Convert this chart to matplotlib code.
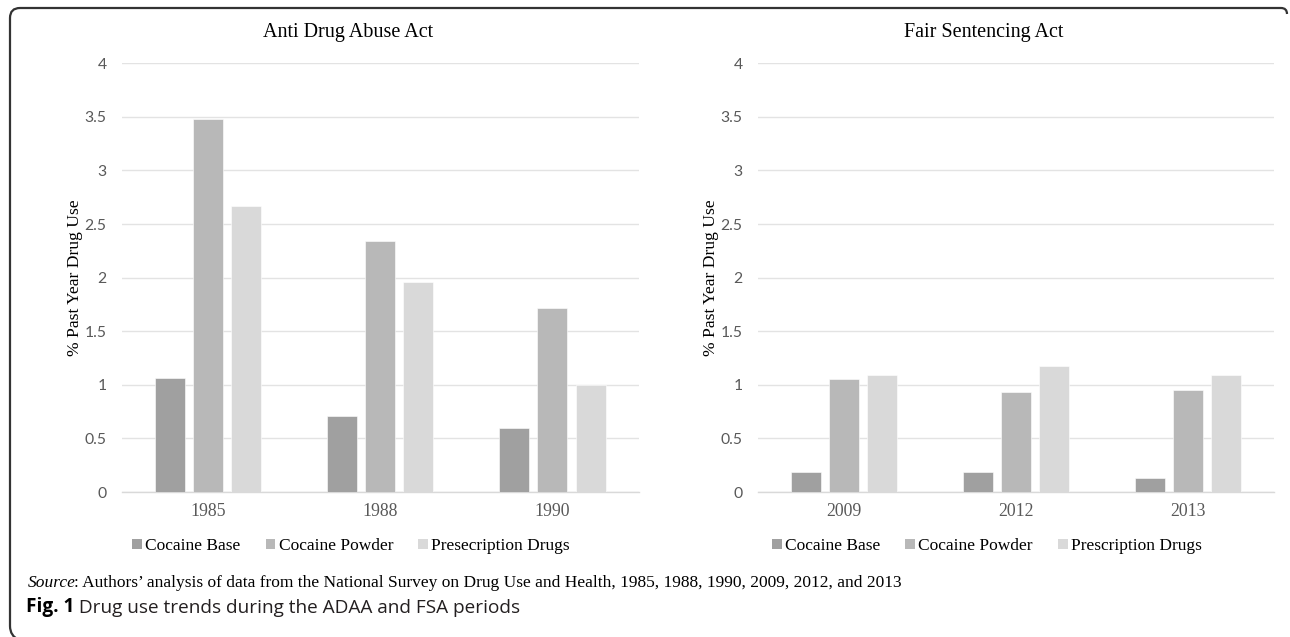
import matplotlib
matplotlib.use("Agg")
import matplotlib.pyplot as plt
from matplotlib.patches import Patch, PathPatch
from matplotlib.path import Path
import numpy as np

# data
adaa_years = ["1985", "1988", "1990"]
adaa_base = [1.06, 0.71, 0.60]
adaa_powder = [3.48, 2.34, 1.72]
adaa_rx = [2.67, 1.96, 1.00]

fsa_years = ["2009", "2012", "2013"]
fsa_base = [0.19, 0.19, 0.13]
fsa_powder = [1.05, 0.93, 0.95]
fsa_rx = [1.09, 1.18, 1.09]

adaa_labels = ["Cocaine Base", "Cocaine Powder", "Presecription Drugs"]
fsa_labels = ["Cocaine Base", "Cocaine Powder", "Prescription Drugs"]
yticks = [0, 0.5, 1, 1.5, 2, 2.5, 3, 3.5, 4]

colors = ["#a0a0a0", "#b8b8b8", "#d9d9d9"]
SERIF = "Liberation Serif"
TICKF = "Lato"
SANS = ["Open Sans", "DejaVu Sans"]

W, H = 1290, 637
fig = plt.figure(figsize=(W / 100, H / 100), dpi=100)


def px_rect(x0, y0, x1, y1):
    return [x0 / W, 1 - y1 / H, (x1 - x0) / W, (y1 - y0) / H]


def draw_panel(rect, title, title_x, years, series, labels, leg_x):
    ax = fig.add_axes(rect)
    x = np.arange(len(years))
    width = 0.174
    step = 0.222
    for i, vals in enumerate(series):
        ax.bar(x + (i - 1) * step, vals, width, color=colors[i],
               edgecolor="white", linewidth=0.4, zorder=3)
    ax.set_xlim(-0.5, len(years) - 0.5)
    ax.set_ylim(0, 4)
    ax.set_yticks(yticks)
    ax.set_yticklabels([f"{t:g}" for t in yticks], fontfamily=TICKF,
                       fontsize=11.3, color="#595959")
    ax.set_xticks(x)
    ax.set_xticklabels(years, fontfamily=SERIF, fontsize=12.8, color="#595959")
    ax.tick_params(axis="y", length=0, pad=11)
    ax.tick_params(axis="x", length=0, pad=8)
    ax.grid(axis="y", color="#e3e3e3", linewidth=1.0, zorder=0)
    for s in ["top", "right", "left"]:
        ax.spines[s].set_visible(False)
    ax.spines["bottom"].set_color("#d9d9d9")
    ax.spines["bottom"].set_linewidth(1.0)
    ax.set_ylabel("% Past Year Drug Use", fontfamily=SERIF, fontsize=12.6,
                  labelpad=1)
    fig.text(title_x / W, 1 - 33 / H, title, fontfamily=SERIF, fontsize=14.5,
             ha="center", va="center")
    handles = [Patch(facecolor=c, edgecolor="none") for c in colors]
    fig.legend(handles, labels, loc="center",
               bbox_to_anchor=(leg_x / W, 1 - 546 / H), ncol=3,
               frameon=False, prop={"family": SERIF, "size": 12.5},
               handlelength=0.55, handleheight=0.55, handletextpad=0.2,
               columnspacing=1.45, borderpad=0)
    return ax


ax1 = draw_panel(px_rect(122, 63.3, 638.5, 492), "Anti Drug Abuse Act", 348,
                 adaa_years, [adaa_base, adaa_powder, adaa_rx], adaa_labels, 351)
draw_panel(px_rect(758, 63.3, 1274, 492), "Fair Sentencing Act", 984,
           fsa_years, [fsa_base, fsa_powder, fsa_rx], fsa_labels, 987)

# source note: italic word followed by regular text
s1 = fig.text(28 / W, 1 - 583 / H, "Source", fontfamily=SERIF, fontsize=12.5,
              style="italic", va="center")
ax1.annotate(": Authors’ analysis of data from the National Survey on Drug Use "
             "and Health, 1985, 1988, 1990, 2009, 2012, and 2013",
             xy=(1, 0), xycoords=s1, xytext=(-1.5, 0),
             textcoords="offset points", va="bottom", ha="left",
             fontfamily=SERIF, fontsize=12.5, annotation_clip=False)

# figure caption
c1 = fig.text(26 / W, 1 - 607 / H, "Fig. 1", fontfamily=SANS,
              fontsize=13.7, fontweight="bold", va="center")
ax1.annotate(" Drug use trends during the ADAA and FSA periods",
             xy=(1, 0), xycoords=c1, va="bottom", ha="left",
             fontfamily=SANS, fontsize=13.7, color="#231f20",
             annotation_clip=False)

# frame: left and top edges with rounded corners
pts = [(19, 640), (10, 636), (10, 626), (10, 18), (10, 8), (20, 8),
       (1281, 8), (1287, 8), (1287, 14)]
codes = [Path.MOVETO, Path.CURVE3, Path.CURVE3, Path.LINETO, Path.CURVE3,
         Path.CURVE3, Path.LINETO, Path.CURVE3, Path.CURVE3]
verts = [(x / W, 1 - y / H) for x, y in pts]
frame = PathPatch(Path(verts, codes), transform=fig.transFigure, fill=False,
                  edgecolor="#333333", linewidth=1.6, zorder=10)
fig.patches.append(frame)

fig.savefig("out.png", dpi=100)
